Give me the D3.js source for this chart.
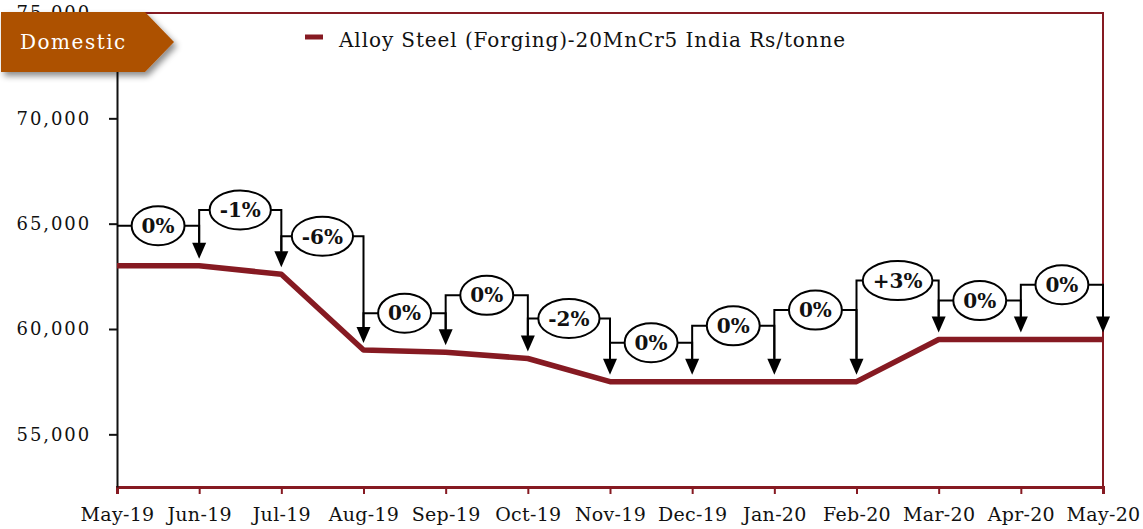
<!DOCTYPE html>
<html>
<head>
<meta charset="utf-8">
<script src="https://cdn.jsdelivr.net/npm/d3@7"></script>
<style>
  body { margin: 0; background: #fff; }
  svg { display: block; }
  text { font-family: "DejaVu Serif", Georgia, serif; }
</style>
</head>
<body>
<svg width="1143" height="529"></svg>
<script>
var months = ["May-19","Jun-19","Jul-19","Aug-19","Sep-19","Oct-19","Nov-19","Dec-19","Jan-20","Feb-20","Mar-20","Apr-20","May-20"];
var prices = [63000, 63000, 62600, 59000, 58900, 58600, 57500, 57500, 57500, 57500, 59500, 59500, 59500];
// month-on-month change callouts, and the price level each callout sits at
var changeLabels = ["0%","-1%","-6%","0%","0%","-2%","0%","0%","0%","+3%","0%","0%"];
var labelLevels = [64900, 65650, 64400, 60750, 61600, 60500, 59350, 60150, 60900, 62300, 61350, 62100];
var yTicks = [55000, 60000, 65000, 70000, 75000];
var seriesName = "Alloy Steel (Forging)-20MnCr5 India Rs/tonne";

var svg = d3.select("svg"),
    red = "#861a22",
    plotL = 117, plotR = 1103, plotT = 13, plotB = 487;

var x = d3.scalePoint().domain(months).range([plotL, plotR]);
var y = d3.scaleLinear().domain([52500, 75000]).range([plotB, plotT]);

var defs = svg.append("defs");
defs.append("filter").attr("id", "shadow")
    .attr("x", "-20%").attr("y", "-20%").attr("width", "150%").attr("height", "160%")
  .append("feDropShadow")
    .attr("dx", 3).attr("dy", 4).attr("stdDeviation", 3)
    .attr("flood-color", "#000").attr("flood-opacity", 0.45);

// frame: top and right borders
svg.append("path")
    .attr("d", "M" + (plotL - 8) + "," + plotT + "H" + plotR + "V" + plotB)
    .attr("fill", "none").attr("stroke", red).attr("stroke-width", 2);

// x axis
var xAxis = svg.append("g")
    .attr("transform", "translate(0," + plotB + ")")
    .call(d3.axisBottom(x).tickSize(7).tickPadding(14));
xAxis.select(".domain").attr("stroke", red).attr("stroke-width", 3);
xAxis.selectAll(".tick line").attr("stroke", red).attr("stroke-width", 2);
xAxis.selectAll(".tick text")
    .attr("fill", "#111").attr("font-size", 19)
    .style("font-family", "'DejaVu Serif', serif")
    .attr("letter-spacing", 0.3);

// y axis
var yAxis = svg.append("g")
    .attr("transform", "translate(" + plotL + ",0)")
    .call(d3.axisLeft(y).tickValues(yTicks).tickSize(8).tickPadding(18)
      .tickFormat(d3.format(",")).tickSizeOuter(0));
yAxis.select(".domain").attr("stroke", "#111").attr("stroke-width", 2);
yAxis.selectAll(".tick line").attr("stroke", "#111").attr("stroke-width", 2);
yAxis.selectAll(".tick text")
    .attr("fill", "#111").attr("font-size", 18)
    .style("font-family", "'DejaVu Serif', serif")
    .attr("letter-spacing", 1.9);

// price line
var line = d3.line()
    .x(function(d, i) { return x(months[i]); })
    .y(function(d) { return y(d); });

svg.append("path")
    .datum(prices)
    .attr("d", line)
    .attr("fill", "none")
    .attr("stroke", red)
    .attr("stroke-width", 5.5)
    .attr("stroke-linejoin", "round");

// change callouts: bracket from previous month, arrow down to this month
var callouts = svg.append("g");
changeLabels.forEach(function(lab, k) {
  var i = k + 1,
      x0 = x(months[i - 1]), x1 = x(months[i]),
      ly = y(labelLevels[k]),
      tip = y(prices[i]) - 7,
      prevTip = y(prices[i - 1]) - 7,
      g = callouts.append("g");

  g.append("path")
      .attr("d", "M" + x0 + "," + (i > 1 ? prevTip - 16 : ly) + "V" + ly + "H" + x1 + "V" + (tip - 15))
      .attr("fill", "none").attr("stroke", "#000").attr("stroke-width", 2);

  g.append("path")
      .attr("d", "M" + (x1 - 7) + "," + (tip - 16) + "L" + (x1 + 7) + "," + (tip - 16) + "L" + x1 + "," + tip + "Z")
      .attr("fill", "#000");

  var cx = (x0 + x1) / 2;
  var ell = g.append("ellipse")
      .attr("cx", cx).attr("cy", ly)
      .attr("ry", 19.5)
      .attr("fill", "#fff").attr("stroke", "#000").attr("stroke-width", 2);
  var t = g.append("text")
      .attr("x", cx).attr("y", ly).attr("dy", "0.36em")
      .attr("text-anchor", "middle")
      .attr("font-size", 20).attr("font-weight", "bold")
      .attr("fill", "#111")
      .text(lab);
  ell.attr("rx", t.node().getComputedTextLength() / 2 + 10);
});

// legend
svg.append("line")
    .attr("x1", 305).attr("x2", 323).attr("y1", 37).attr("y2", 37)
    .attr("stroke", red).attr("stroke-width", 5);
svg.append("text")
    .attr("x", 339).attr("y", 47)
    .attr("font-size", 20).attr("fill", "#111")
    .attr("letter-spacing", 0.9)
    .text(seriesName);

// "Domestic" banner
var banner = svg.append("g");
banner.append("path")
    .attr("d", "M1,12H145L174,42L145,72H1Z")
    .attr("fill", "#ad5102")
    .attr("filter", "url(#shadow)");
banner.append("text")
    .attr("x", 20).attr("y", 49)
    .attr("font-size", 20).attr("fill", "#fff")
    .attr("letter-spacing", 1.5)
    .text("Domestic");
</script>
</body>
</html>
